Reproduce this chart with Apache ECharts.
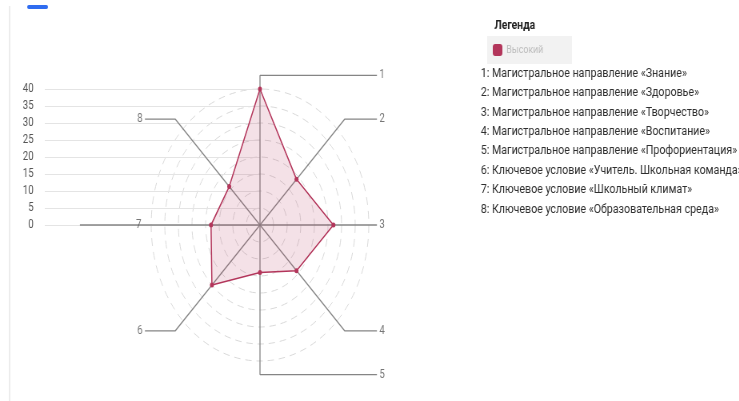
<!DOCTYPE html>
<html><head><meta charset="utf-8">
<script src="https://cdn.jsdelivr.net/npm/echarts@6/dist/echarts.min.js"></script>
<style>
html,body{margin:0;padding:0;background:#fff;overflow:hidden;width:739px;height:401px}
#c{width:924px;height:401px;transform:scaleX(0.8);transform-origin:0 0}
</style></head>
<body><div id="c"></div>
<script>
// ---- data ----
const categories = ['1','2','3','4','5','6','7','8'];
const values = [40, 19, 27, 19, 14, 25, 18, 16];
const seriesName = 'Высокий';
const yTicks = [0, 5, 10, 15, 20, 25, 30, 35, 40];
const legendItems = [
  '1: Магистральное направление «Знание»',
  '2: Магистральное направление «Здоровье»',
  '3: Магистральное направление «Творчество»',
  '4: Магистральное направление «Воспитание»',
  '5: Магистральное направление «Профориентация»',
  '6: Ключевое условие «Учитель. Школьная команда»',
  '7: Ключевое условие «Школьный климат»',
  '8: Ключевое условие «Образовательная среда»'
];

// ---- layout (uncompressed space; container is scaled 0.8 horizontally) ----
const W = 924, H = 401;
const CX = 325, CY = 225, R = 136;
const MAXV = yTicks[yTicks.length - 1];
const U = R / MAXV;            // px per unit
const COLOR = '#b3365b';
const AXIS_COLOR = '#858585';

// radar indicators are laid out counter-clockwise: reorder to go clockwise
const order = categories.map((_, i) => (categories.length - i) % categories.length);

const elbowR = 44, rightEnd = 43, leftEnd = -42.3;
const lineSeries = [];
const labelData = [];
categories.forEach((c, k) => {
  const a = (90 - 45 * k) * Math.PI / 180;
  const cs = Math.cos(a), sn = Math.sin(a);
  let pts, lab;
  if (Math.abs(sn) < 1e-6) {
    if (cs > 0) { pts = [[0,0],[rightEnd,0]]; lab = {value:[rightEnd,0], pos:'right'}; }
    else { pts = [[0,0],[-66.2,0]]; lab = {value:[-44.6,0], pos:'inside'}; }
  } else {
    const ex = elbowR * cs, ey = elbowR * sn;
    const endX = cs < -1e-6 ? leftEnd : rightEnd;
    pts = [[0,0],[ex,ey],[endX,ey]];
    lab = {value:[endX,ey], pos: cs < -1e-6 ? 'left' : 'right'};
  }
  lineSeries.push({
    type:'line', xAxisIndex:1, yAxisIndex:1, data:pts, symbol:'none', silent:true,
    lineStyle:{color:AXIS_COLOR, width:1.3}, z:3, animation:false
  });
  labelData.push({value:lab.value, label:{show:true, position:lab.pos, distance:3, formatter:c}});
});

const option = {
  animation:false,
  textStyle:{fontFamily:'Roboto, "Noto Sans", sans-serif'},
  title:{text:'Легенда', left:613, top:14, textStyle:{fontSize:13, fontWeight:'bold', color:'#222'}},
  legend:{
    data:[seriesName], left:609, top:36, orient:'horizontal',
    padding:[8, 36, 8, 7], backgroundColor:'#f2f2f2',
    icon:'roundRect', itemWidth:12, itemHeight:12, itemGap:5,
    textStyle:{color:'#bdbdbd', fontSize:11}
  },
  grid:[
    {left:56, top:CY - R, width:CX - 56, height:R, containLabel:false},
    {left:0, top:0, width:W, height:H, containLabel:false}
  ],
  xAxis:[
    {type:'value', gridIndex:0, show:false, min:0, max:1},
    {type:'value', gridIndex:1, show:false, min:-CX / U, max:(W - CX) / U}
  ],
  yAxis:[
    {type:'value', gridIndex:0, min:yTicks[0], max:MAXV, interval:yTicks[1]-yTicks[0],
     axisLine:{show:false}, axisTick:{show:false},
     axisLabel:{color:'#555', fontSize:12, margin:14},
     splitLine:{lineStyle:{color:'#e4e4e4', width:1}}},
    {type:'value', gridIndex:1, show:false, min:-(H - CY) / U, max:CY / U}
  ],
  radar:{
    center:[CX, CY], radius:R, startAngle:90, splitNumber:8, shape:'circle',
    indicator: order.map(i => ({name:categories[i], min:0, max:MAXV})),
    axisName:{show:false},
    axisLine:{show:false}, axisTick:{show:false}, axisLabel:{show:false},
    splitArea:{show:false},
    splitLine:{lineStyle:{color:'#d9d9d9', type:[8,6], width:1}}
  },
  series:[
    ...lineSeries,
    {type:'scatter', xAxisIndex:1, yAxisIndex:1, symbolSize:0, silent:true, data:labelData,
     label:{color:'#555', fontSize:12}, z:4},
    {type:'radar', name:seriesName, z:5, symbol:'circle', symbolSize:5,
     itemStyle:{color:COLOR},
     lineStyle:{color:COLOR, width:1.5},
     areaStyle:{color:'rgba(179,54,91,0.21)'},
     data:[{name:seriesName, value: order.map(i => values[i])}]}
  ],
  graphic:[
    {type:'line', shape:{x1:12, y1:6, x2:12, y2:H}, style:{stroke:'#ececec', lineWidth:2}, silent:true},
    {type:'rect', shape:{x:34, y:5, width:26, height:4, r:2}, style:{fill:'#2f6cf0'}, silent:true},
    ...legendItems.map((t, i) => ({
      type:'text', left:601, top:67 + i * 19.4,
      style:{text:t, fill:'#2e2e2e', font:'13.3px Roboto, "Noto Sans", sans-serif'}, silent:true
    }))
  ]
};
const chart = echarts.init(document.getElementById('c'), null, {renderer:'canvas'});
chart.setOption(option);
</script></body></html>
